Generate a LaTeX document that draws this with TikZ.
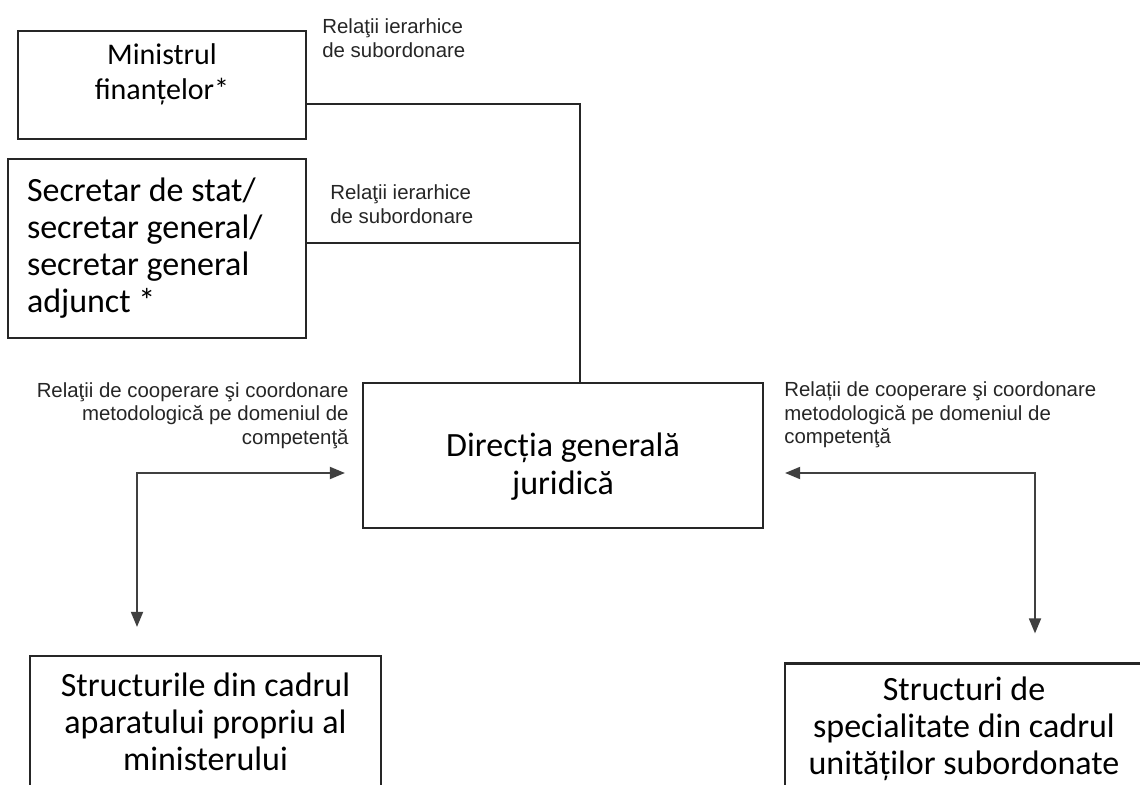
\documentclass[tikz,border=0pt]{standalone}
\usepackage{fontspec}
\setmainfont{Carlito}
\newfontfamily\lblfont{Liberation Sans}
\usetikzlibrary{arrows.meta,positioning,calc}

\begin{document}
\begin{tikzpicture}[x=0.5pt, y=-0.5pt,
    box/.style={draw=black!85, line width=1.1pt, align=center, inner sep=0pt,
                font=\fontsize{17}{18.5}\selectfont},
    lbl/.style={font=\lblfont\fontsize{10.2}{11.8}\selectfont, inner sep=0pt, text=black!85},
    link/.style={draw=black!85, line width=1pt},
    arr/.style={{Triangle[length=7.5pt, width=6pt]}-{Triangle[length=7.5pt, width=6pt]},
                draw=black!75, line width=0.9pt}
]
    \path[use as bounding box, fill=white] (0,0) rectangle (1140,785);

    % Leadership
    \node[box, minimum width=144pt, minimum height=54pt, text depth=13.5pt,
          font=\fontsize{15}{17.5}\selectfont] (min) at (162,85) {Ministrul\\finanțelor*};
    \node[box, text width=130pt, inner xsep=9.5pt, minimum height=89.5pt,
          align=flush left] (sec) at (157,248.5) {Secretar de stat/\\secretar general/\\secretar general\\adjunct *};

    % Central directorate
    \node[box, minimum width=200pt, minimum height=72.5pt, text height=42pt,
          font=\fontsize{17}{19}\selectfont] (dir) at (563,455.5) {Direcția generală\\juridică};

    % Cooperating structures
    \node[box, minimum width=175.5pt, minimum height=65.5pt] (str) at (205.5,721.5) {Structurile din cadrul\\aparatului propriu al\\ministerului};
    \node[box, minimum width=179pt, minimum height=65.5pt] (spec) at (964,729) {Structuri de\\specialitate din cadrul\\unităților subordonate};

    % Junctions
    \coordinate (hub) at (580,104);
    \coordinate (tee) at (580,243);
    \coordinate (lcorner) at (137,473);
    \coordinate (rcorner) at (1035,473);

    % Subordination lines
    \draw[link] (hub -| min.east) -- (hub) -- (hub |- dir.north);
    \draw[link] (tee -| sec.east) -- (tee);

    % Cooperation arrows
    \draw[arr, shorten <=8.5pt, shorten >=14pt] (dir.west |- lcorner) -- (lcorner) -- (lcorner |- str.north);
    \draw[arr, shorten <=10.5pt, shorten >=14.5pt] (dir.east |- rcorner) -- (rcorner) -- (rcorner |- spec.north);

    % Labels
    \node[lbl, anchor=west, align=left] (hlbl1) at (322,38.5) {Relaţii ierarhice\\de subordonare};
    \node[lbl, anchor=west, align=left] (hlbl2) at (330,204.5) {Relaţii ierarhice\\de subordonare};
    \node[lbl, anchor=east, align=right] (clbl1) at (349,415.5) {Relaţii de cooperare şi coordonare\\metodologică pe domeniul de\\competenţă};
    \node[lbl, anchor=west, align=left] (clbl2) at (784,415) {Relații de cooperare şi coordonare\\metodologică pe domeniul de\\competenţă};
\end{tikzpicture}
\end{document}
